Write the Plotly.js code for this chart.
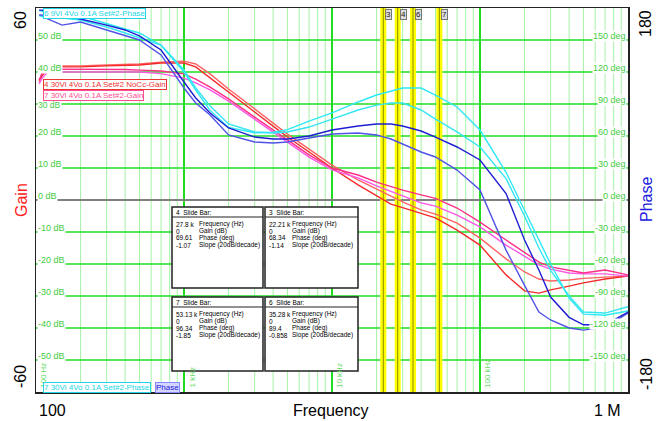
<!DOCTYPE html>
<html><head><meta charset="utf-8">
<script src="https://cdn.plot.ly/plotly-3.0.1.min.js"></script>
<style>html,body{margin:0;padding:0;background:#fff;}#chart{width:656px;height:421px;}</style>
</head><body><div id="chart"></div>
<script>
// ---------- data ----------
const freq = [105,110,120,150,200,300,400,500,700,1000,1200,1500,2000,3000,4000,5000,7000,10000,15000,20000,25000,30000,40000,50000,70000,100000,150000,200000,250000,300000,400000,500000,700000,1000000];

// gain curves (dB)
const gainRed     = [37.5,38.8,41.3,41.6,41.6, 41.9,42.0,42.2,42.8,42.8, 41.6,38.1,33.8,27.5,23.1, 19.7,15.0,10.0,4.7,1.3, -1.3,-2.4,-4.1,-5.6,-9.4, -14.1,-23.4,-28.4,-29.1,-28.1, -26.9,-25.9,-24.7,-23.8];
const gainSalmon  = [36.9,40.0,41.9,41.9,41.9, 42.2,42.3,42.5,43.1,43.4, 42.5,39.4,34.7,28.4,24.1, 20.6,15.9,10.9,6.3,3.4, 1.0,-0.6,-3.1,-4.4,-7.2, -11.9,-18.4,-22.5,-24.7,-25.3, -25.0,-24.5,-24.1,-23.8];
const gainPink    = [37.5,39.4,40.9,40.9,40.9, 40.9,40.8,40.6,40.3,39.4, 37.8,35.3,31.6,25.9,21.9, 18.8,14.1,10.0,7.8,5.6, 4.1,3.1,1.6,0.5,-2.5, -6.9,-12.5,-16.3,-19.4,-20.9, -21.9,-22.8,-21.9,-23.4];
const gainMagenta = [36.3,38.1,40.0,40.0,40.0, 40.0,40.0,40.0,39.5,38.1, 36.6,34.4,30.9,25.3,21.3, 18.1,13.4,9.4,6.9,4.4, 2.8,1.3,-0.9,-1.9,-4.7, -8.4,-14.1,-17.5,-20.3,-21.6, -22.8,-23.1,-23.1,-23.8];

// phase curves (deg)
const phaseCyanA = [178,177,177.2,174.4,172.5, 165,160.3,156.6,145,120, 103,84,68,63,63.5, 66,74,81.6,91.9,98.4, 102.2,105,105,98.4,87.2, 65.6,26,-10,-38,-60, -92,-107,-108,-104];
const phaseCyanB = [173,172,171,170.6,168.8, 162.2,156.6,151.9,145.3,121.9, 105,88.1,71.3,63.8,62.8, 63.8,68.4,75.9,84.4,89, 90.9,90.9,84.4,75.9,63.8, 49.7,20,-15,-45,-66, -90,-105,-106,-100];
const phaseBlueA = [178,178,175,172.5,169.7, 164,159.4,153.8,140.6,110.6, 95.6,81.6,67.5,59,57.2, 57.2,60,65.6,69.4,71.3, 71.3,69.4,64.7,59,49.7, 37.5,6,-37.5,-65.6,-91, -110,-117,-117,-105];
const phaseBlueB = [173.4,173.4,169.7,164,166.9, 159.4,154.7,150,136,105, 91,79.7,61,54.4,53.4, 54.4,58.1,61.9,62.8,61, 57.2,52.5,45,40.3,28.1, 9.4,-47,-80,-105,-112.5, -120,-122,-119,-106];

// slide bars
const barFreq  = [22210, 27800, 35280, 53130];
const barTag   = ['3','4','6','7'];
const boxTitle = ['4  Slide Bar:','3  Slide Bar:','7  Slide Bar:','6  Slide Bar:'];
const boxFreq  = ['27.8 k','22.21 k','53.13 k','35.28 k'];
const boxGain  = ['0','0','0','0'];
const boxPhase = ['69.61','68.34','96.34','89.4'];
const boxSlope = ['-1.07','-1.14','-1.85','-0.858'];
const rowLabels = ['Frequency (Hz)','Gain (dB)','Phase (deg)','Slope (20dB/decade)'];

const gainTicks  = [50,40,30,20,10,0,-10,-20,-30,-40,-50];
const phaseTicks = [150,120,90,60,30,0,-30,-60,-90,-120,-150];
const decadeLabels = [[100,'100 Hz'],[1000,'1 kHz'],[10000,'10 kHz'],[100000,'100 kHz']];

// ---------- helpers ----------
const L=36, R=628, T=8, B=392;
const px = x => (x-L)/(R-L);
const py = y => (B-y)/(B-T);

const traces = [];
function addTrace(y, color, axis){
  traces.push({x:freq, y:y, type:'scatter', mode:'lines', yaxis:axis,
    line:{color:color, width:1.4}, hoverinfo:'skip'});
}
addTrace(gainSalmon,'#ff6262','y');
addTrace(gainRed,'#f42a2a','y');
addTrace(gainMagenta,'#ff55e6','y');
addTrace(gainPink,'#ff2e88','y');
addTrace(phaseCyanB,'#33e6f2','y2');
addTrace(phaseCyanA,'#2ee8f5','y2');
addTrace(phaseBlueB,'#5252e8','y2');
addTrace(phaseBlueA,'#1e1ed2','y2');

const shapes = [];
const ann = [];
// vertical grid
for(let d=2; d<=5; d++){
  for(let m=1; m<=9; m++){
    const f = m*Math.pow(10,d);
    if(f<=100 || f>=1e6) continue;
    const major = (m===1);
    shapes.push({type:'line', xref:'x', yref:'paper', x0:f, x1:f, y0:0, y1:1, layer:'below',
      line:{color: major ? '#1fdc1f' : '#a6f3a6', width: major ? 2 : 1}});
  }
}
// horizontal grid
gainTicks.forEach(g=>{
  shapes.push({type:'line', xref:'paper', yref:'y', x0:0, x1:1, y0:g, y1:g, layer:'below',
    line:{color: g===0 ? '#808080' : '#22dd22', width: g===0 ? 2 : 1.5}});
});
// slide bars
barFreq.forEach((f,i)=>{
  shapes.push({type:'line', xref:'x', yref:'paper', x0:f, x1:f, y0:0, y1:1, layer:'below',
    line:{color:'#ffff00', width:6}});
  shapes.push({type:'line', xref:'x', yref:'paper', x0:f, x1:f, y0:0, y1:1, layer:'below',
    line:{color:'#8a8a00', width:1}});
  ann.push({xref:'x', yref:'paper', x:Math.log10(f), y:1, xanchor:'left', yanchor:'top',
    xshift:2, yshift:-1, text:barTag[i], showarrow:false,
    font:{size:8, color:'#222'}, bgcolor:'#dcdcdc', bordercolor:'#777', borderwidth:1, borderpad:0});
});
// axis value labels inside plot
gainTicks.forEach(g=>{
  ann.push({xref:'paper', yref:'y', x:0, y:g, xanchor:'left', yanchor:'middle', xshift:1, yshift:(g===30?-1:4),
    text:g+' dB', showarrow:false, font:{size:(g===30?8.5:9), color:'#3fcc3f'}, bgcolor:'#fff', borderpad:0});
});
phaseTicks.forEach(p=>{
  ann.push({xref:'paper', yref:'y2', x:1, y:p, xanchor:'right', yanchor:'middle', xshift:-1, yshift:4,
    text:p+' deg', showarrow:false, font:{size:9, color:'#3fcc3f'}, bgcolor:'#fff', borderpad:0});
});
decadeLabels.forEach(([f,t])=>{
  ann.push({xref:'x', yref:'paper', x:Math.log10(f), y:0, xanchor:'left', yanchor:'bottom', xshift:1, yshift:2,
    text:t, textangle:-90, showarrow:false, font:{size:8, color:'#66dd66'}});
});
// slide bar info boxes
const boxes = [[172,263,207,288],[265,358,207,288],[172,263,297,371],[265,358,297,371]];
boxes.forEach((b,i)=>{
  const [x0,x1,y0,y1]=b;
  shapes.push({type:'rect', xref:'paper', yref:'paper', x0:px(x0), x1:px(x1), y0:py(y1), y1:py(y0),
    fillcolor:'#fff', line:{color:'#222', width:1.5}, layer:'above'});
  shapes.push({type:'line', xref:'paper', yref:'paper', x0:px(x0), x1:px(x1), y0:py(y0+10), y1:py(y0+10),
    line:{color:'#222', width:1}, layer:'above'});
  ann.push({xref:'paper', yref:'paper', x:px(x0+3), y:py(y0+5), xanchor:'left', yanchor:'middle',
    text:boxTitle[i], showarrow:false, font:{size:6.5, color:'#000'}, borderpad:0});
  const vals=[boxFreq[i],boxGain[i],boxPhase[i],boxSlope[i]];
  vals.forEach((v,k)=>{
    const yy = y0+17+k*7;
    ann.push({xref:'paper', yref:'paper', x:px(x0+3), y:py(yy), xanchor:'left', yanchor:'middle',
      text:v, showarrow:false, font:{size:6.5, color:'#000'}, borderpad:0});
    ann.push({xref:'paper', yref:'paper', x:px(x0+26), y:py(yy), xanchor:'left', yanchor:'middle',
      text:rowLabels[k], showarrow:false, font:{size:6.5, color:'#000'}, borderpad:0});
  });
});
// legend tags
function tag(text, x, y, color, bg){
  ann.push({xref:'paper', yref:'paper', x:px(x), y:py(y), xanchor:'left', yanchor:'middle',
    text:text, showarrow:false, font:{size:8, color:color}, bgcolor:bg||'#fff',
    bordercolor:color, borderwidth:1, borderpad:0});
}
tag('6 9Vi 4Vo 0.1A Set#2-Phase', 43, 13, '#22d6e6');
tag('4 30Vi 4Vo 0.1A Set#2 NoCc-Gain', 43, 84.5, '#ee3333');
tag('7 30Vi 4Vo 0.1A Set#2-Gain', 43, 95, '#ff4d94');
tag('7 30Vi 4Vo 0.1A Set#2-Phase', 43, 387, '#22d6e6');
ann.push({xref:'paper', yref:'paper', x:px(155), y:py(387), xanchor:'left', yanchor:'middle',
  text:'Phase', showarrow:false, font:{size:8, color:'#2222dd'}, bgcolor:'#d4d4ff',
  bordercolor:'#8888ff', borderwidth:1, borderpad:0});

// outer labels
function outer(text, x, y, color, angle){
  ann.push({xref:'paper', yref:'paper', x:px(x), y:py(y), xanchor:'center', yanchor:'middle',
    text:text, showarrow:false, textangle:angle||0, font:{size:16, color:color||'#000'}});
}
outer('60', 20, 20, '#000', -90);
outer('-60', 20, 377, '#000', -90);
outer('Gain', 21, 200, '#ff2020', -90);
outer('180', 646, 24, '#000', -90);
outer('Phase', 646, 200, '#2020e0', -90);
outer('-180', 646, 374, '#000', -90);
outer('100', 52, 410);
outer('Frequency', 331, 410);
outer('1 M', 607, 410);

const layout = {
  width:656, height:421,
  margin:{l:L, r:656-R, t:T, b:421-B, pad:0},
  paper_bgcolor:'#fff', plot_bgcolor:'#fff',
  showlegend:false,
  font:{family:'"Liberation Sans", Arial, sans-serif', size:12, color:'#000'},
  xaxis:{type:'log', range:[2,6], showgrid:false, zeroline:false, showticklabels:false, ticks:'',
    showline:true, mirror:true, linecolor:'#222', linewidth:1.5},
  yaxis:{range:[-60,60], showgrid:false, zeroline:false, showticklabels:false, ticks:'',
    showline:true, mirror:true, linecolor:'#222', linewidth:1.5},
  yaxis2:{range:[-180,180], overlaying:'y', side:'right', showgrid:false, zeroline:false,
    showticklabels:false, ticks:'', showline:false},
  shapes:shapes, annotations:ann
};
Plotly.newPlot('chart', traces, layout, {displayModeBar:false, staticPlot:true});
</script></body></html>
